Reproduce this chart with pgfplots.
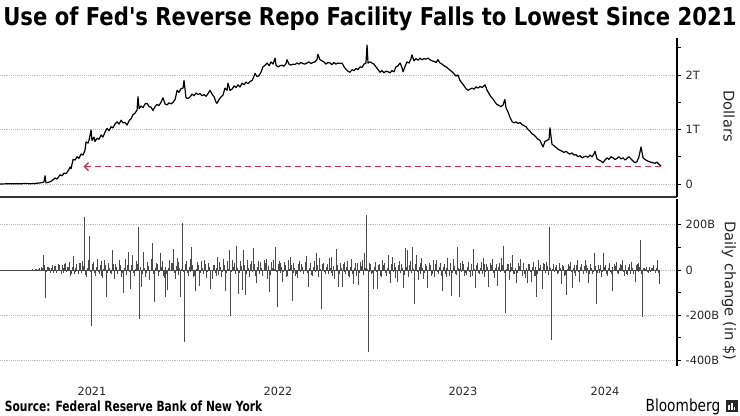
\documentclass[border=0pt]{standalone}
\usepackage{pgfplots}
\pgfplotsset{compat=1.18}
\usepackage{fontspec}
\newfontfamily\djv{DejaVu Sans}
\usetikzlibrary{arrows.meta}
\definecolor{rrred}{RGB}{204,51,85}
\definecolor{bargray}{RGB}{75,75,75}
\definecolor{gridgray}{RGB}{185,185,185}
\begin{document}
\djv
\begin{tikzpicture}
\useasboundingbox (0pt,0pt) rectangle (555pt,312pt);
\node[anchor=base west, inner sep=0] at (2.25pt,292.5pt) {\resizebox{550pt}{14pt}{\bfseries Use of Fed's Reverse Repo Facility Falls to Lowest Since 2021}};
\node[anchor=base west, inner sep=0] at (3.5pt,3pt) {\resizebox{193pt}{8pt}{\bfseries Source: Federal Reserve Bank of New York}};
\node[anchor=base west, inner sep=0] at (484pt,3pt) {\resizebox{56pt}{9.5pt}{Bloomberg}};
\fill[black!85] (544.5pt,3pt) rectangle (553.5pt,12pt);
\fill[white] (546pt,4.5pt) rectangle (547.2pt,8pt);
\fill[white] (548.2pt,4.5pt) rectangle (549.4pt,10pt);
\fill[white] (550.4pt,4.5pt) rectangle (551.6pt,7pt);

\begin{axis}[
 at={(0pt,163.875pt)}, anchor=south west, scale only axis,
 width=507.75pt, height=119.625pt,
 xmin=2021.016, xmax=2024.666, ymin=-0.2477, ymax=2.679,
 axis y line*=right, axis x line*=bottom,
 axis line style={-},
 x axis line style={line width=1.5pt, draw=black!80},
 y axis line style={line width=0.8pt, draw=black},
 xtick=\empty,
 ytick={0,1,2}, yticklabels={0,1T,2T},
 minor ytick={0.5,1.5,2.5},
 tick align=outside, major tick length=3pt, minor tick length=3pt,
 tick style={black, line width=0.6pt},
 ymajorgrids, grid style={gridgray, densely dotted, line width=0.5pt},
 yticklabel style={font=\fontsize{8.5}{10}\selectfont, text=black!85},
 ylabel={Dollars},
 every axis y label/.style={at={(axis description cs:1,0.51)}, xshift=39pt, rotate=-90, anchor=center, font=\fontsize{11}{13}\selectfont, text=black!85},
]
\addplot[black, line width=0.9pt, line join=round] coordinates {
(2021.016,0.00) (2021.070,0.005) (2021.124,0.003) (2021.151,0.01) (2021.178,0.005) (2021.205,0.01) (2021.232,0.02) (2021.248,0.03) (2021.253,0.04) (2021.259,0.15) (2021.264,0.02) (2021.275,0.03) (2021.286,0.04) (2021.296,0.06) (2021.313,0.11) (2021.323,0.09) (2021.340,0.17) (2021.351,0.15) (2021.361,0.20) (2021.372,0.19) (2021.383,0.24) (2021.394,0.31) (2021.399,0.28) (2021.410,0.45) (2021.421,0.44) (2021.431,0.50) (2021.442,0.47) (2021.453,0.55) (2021.464,0.53) (2021.474,0.62) (2021.480,0.77) (2021.491,0.75) (2021.496,0.80) (2021.507,0.99) (2021.512,0.80) (2021.523,0.86) (2021.528,0.78) (2021.539,0.84) (2021.550,0.82) (2021.561,0.90) (2021.571,0.86) (2021.582,0.95) (2021.593,1.02) (2021.604,0.98) (2021.615,1.05) (2021.625,1.03) (2021.636,1.10) (2021.647,1.14) (2021.658,1.10) (2021.669,1.17) (2021.679,1.12) (2021.690,1.13) (2021.701,1.08) (2021.712,1.16) (2021.723,1.20) (2021.733,1.27) (2021.744,1.30) (2021.755,1.36) (2021.760,1.60) (2021.766,1.38) (2021.776,1.43) (2021.787,1.40) (2021.798,1.47) (2021.809,1.48) (2021.820,1.42) (2021.830,1.41) (2021.841,1.35) (2021.852,1.42) (2021.863,1.46) (2021.873,1.44) (2021.884,1.50) (2021.895,1.58) (2021.906,1.47) (2021.917,1.45) (2021.927,1.49) (2021.938,1.47) (2021.949,1.50) (2021.960,1.55) (2021.971,1.72) (2021.981,1.68) (2021.992,1.75) (2022.003,1.76) (2022.008,1.90) (2022.019,1.58) (2022.030,1.57) (2022.041,1.60) (2022.051,1.65) (2022.062,1.62) (2022.073,1.67) (2022.084,1.64) (2022.094,1.66) (2022.105,1.62) (2022.116,1.64) (2022.127,1.61) (2022.138,1.66) (2022.148,1.72) (2022.159,1.65) (2022.170,1.60) (2022.181,1.50) (2022.186,1.48) (2022.197,1.55) (2022.208,1.60) (2022.218,1.63) (2022.229,1.76) (2022.240,1.72) (2022.245,1.85) (2022.256,1.72) (2022.267,1.74) (2022.278,1.80) (2022.289,1.77) (2022.299,1.82) (2022.310,1.78) (2022.321,1.85) (2022.332,1.82) (2022.342,1.87) (2022.353,1.84) (2022.364,1.88) (2022.375,1.90) (2022.386,1.98) (2022.391,2.03) (2022.402,1.97) (2022.413,1.99) (2022.423,2.05) (2022.434,2.15) (2022.445,2.18) (2022.456,2.22) (2022.467,2.17) (2022.477,2.24) (2022.488,2.20) (2022.499,2.31) (2022.504,2.18) (2022.515,2.15) (2022.526,2.17) (2022.536,2.18) (2022.547,2.16) (2022.558,2.21) (2022.563,2.28) (2022.574,2.20) (2022.585,2.18) (2022.596,2.20) (2022.606,2.19) (2022.617,2.22) (2022.628,2.20) (2022.639,2.23) (2022.649,2.21) (2022.660,2.20) (2022.671,2.22) (2022.682,2.24) (2022.693,2.21) (2022.703,2.23) (2022.714,2.24) (2022.725,2.28) (2022.730,2.38) (2022.741,2.28) (2022.752,2.26) (2022.763,2.24) (2022.773,2.20) (2022.784,2.23) (2022.795,2.22) (2022.806,2.19) (2022.817,2.23) (2022.827,2.20) (2022.838,2.22) (2022.849,2.21) (2022.860,2.22) (2022.871,2.15) (2022.882,2.10) (2022.892,2.07) (2022.903,2.05) (2022.914,2.10) (2022.925,2.08) (2022.935,2.12) (2022.946,2.10) (2022.957,2.15) (2022.968,2.14) (2022.979,2.20) (2022.989,2.22) (2022.995,2.55) (2023.000,2.22) (2023.011,2.24) (2023.021,2.22) (2023.032,2.20) (2023.043,2.15) (2023.054,2.10) (2023.065,2.05) (2023.075,2.08) (2023.086,2.04) (2023.097,2.07) (2023.108,2.06) (2023.119,2.04) (2023.129,2.08) (2023.140,2.06) (2023.151,2.15) (2023.162,2.17) (2023.173,2.22) (2023.183,2.14) (2023.189,2.06) (2023.199,2.15) (2023.210,2.24) (2023.221,2.22) (2023.232,2.30) (2023.237,2.37) (2023.248,2.26) (2023.259,2.30) (2023.270,2.27) (2023.280,2.31) (2023.291,2.28) (2023.302,2.30) (2023.313,2.29) (2023.324,2.31) (2023.334,2.28) (2023.345,2.26) (2023.356,2.25) (2023.367,2.23) (2023.377,2.28) (2023.388,2.22) (2023.399,2.20) (2023.410,2.17) (2023.421,2.15) (2023.431,2.12) (2023.442,2.09) (2023.453,2.06) (2023.464,2.02) (2023.474,1.98) (2023.485,2.00) (2023.496,1.90) (2023.507,1.85) (2023.518,1.80) (2023.528,1.75) (2023.539,1.72) (2023.550,1.74) (2023.561,1.76) (2023.572,1.74) (2023.582,1.78) (2023.593,1.76) (2023.604,1.79) (2023.615,1.77) (2023.625,1.80) (2023.631,1.82) (2023.642,1.72) (2023.652,1.66) (2023.663,1.60) (2023.674,1.56) (2023.685,1.50) (2023.695,1.46) (2023.706,1.44) (2023.717,1.42) (2023.728,1.45) (2023.738,1.55) (2023.744,1.40) (2023.755,1.32) (2023.766,1.22) (2023.776,1.15) (2023.787,1.12) (2023.798,1.14) (2023.809,1.11) (2023.820,1.13) (2023.830,1.09) (2023.841,1.07) (2023.852,1.05) (2023.863,1.00) (2023.873,0.97) (2023.884,0.92) (2023.895,0.90) (2023.906,0.86) (2023.917,0.82) (2023.927,0.80) (2023.938,0.72) (2023.944,0.68) (2023.954,0.78) (2023.965,0.80) (2023.976,0.82) (2023.981,1.03) (2023.992,0.73) (2024.003,0.70) (2024.014,0.67) (2024.024,0.64) (2024.035,0.62) (2024.046,0.60) (2024.057,0.58) (2024.068,0.60) (2024.078,0.57) (2024.089,0.55) (2024.100,0.57) (2024.111,0.53) (2024.121,0.54) (2024.132,0.50) (2024.143,0.52) (2024.154,0.48) (2024.165,0.50) (2024.175,0.51) (2024.186,0.49) (2024.197,0.53) (2024.208,0.50) (2024.218,0.55) (2024.224,0.60) (2024.235,0.46) (2024.245,0.44) (2024.256,0.42) (2024.267,0.39) (2024.278,0.44) (2024.289,0.48) (2024.299,0.45) (2024.310,0.50) (2024.321,0.48) (2024.332,0.45) (2024.343,0.47) (2024.353,0.50) (2024.364,0.46) (2024.375,0.48) (2024.386,0.44) (2024.396,0.47) (2024.407,0.50) (2024.418,0.46) (2024.429,0.42) (2024.439,0.39) (2024.450,0.41) (2024.461,0.50) (2024.472,0.68) (2024.483,0.48) (2024.493,0.45) (2024.504,0.43) (2024.515,0.41) (2024.526,0.40) (2024.537,0.39) (2024.547,0.38) (2024.558,0.40) (2024.569,0.36) (2024.580,0.33)
};
\addplot[rrred, line width=1.1pt, dash pattern=on 4.5pt off 3pt, -{Straight Barb[length=3pt,width=6pt]}] coordinates {(2024.578,0.32) (2021.466,0.32)};
\end{axis}

\begin{axis}[
 at={(0pt,37.5pt)}, anchor=south west, scale only axis,
 width=507.75pt, height=125.25pt,
 xmin=2021.016, xmax=2024.666, ymin=-425, ymax=314,
 axis y line*=right, axis x line*=bottom,
 axis line style={-},
 x axis line style={draw=none},
 y axis line style={line width=0.8pt, draw=black},
 xtick={2021.512,2022.515,2023.512,2024.278},
 xticklabels={2021,2022,2023,2024},
 ytick={-400,-200,0,200}, yticklabels={-400B,-200B,0,200B},
 minor ytick={-300,-100,100},
 tick align=outside, major tick length=3pt, minor tick length=3pt,
 tick style={black, line width=0.6pt},
 major x tick style={draw=none},
 ymajorgrids, grid style={gridgray, densely dotted, line width=0.5pt},
 yticklabel style={font=\fontsize{8.5}{10}\selectfont, text=black!85},
 xticklabel style={font=\fontsize{8.5}{10}\selectfont, text=black!85, anchor=base, yshift=-19pt},
 ylabel={Daily change (in \$)},
 every axis y label/.style={at={(axis description cs:1,0.45)}, xshift=39pt, rotate=-90, anchor=center, font=\fontsize{11}{13}\selectfont, text=black!85},
]
\addplot[bargray, line width=0.5pt] coordinates {(2021.016,0) (2024.575,0)};
\addplot[ycomb, bargray, line width=0.55pt, no markers] coordinates {
(2021.02,2) (2021.05,1) (2021.07,1) (2021.08,2) (2021.12,1) (2021.15,1) (2021.17,1) (2021.19,3)
(2021.20,2) (2021.21,5) (2021.22,-3) (2021.23,8) (2021.24,12) (2021.25,66) (2021.26,-123) (2021.27,15) (2021.28,10) (2021.29,-8)
(2021.30,20) (2021.31,18) (2021.32,-12) (2021.33,28) (2021.34,-5) (2021.35,22) (2021.36,-15) (2021.37,30) (2021.38,12) (2021.39,35)
(2021.40,-20) (2021.41,60) (2021.42,-10) (2021.43,25) (2021.44,-18) (2021.45,30) (2021.46,40) (2021.47,233) (2021.48,-30) (2021.49,45)
(2021.50,150) (2021.51,-246) (2021.52,35) (2021.53,-25) (2021.54,50) (2021.55,-20) (2021.56,40) (2021.57,-35) (2021.58,45) (2021.59,-118)
(2021.60,30) (2021.61,-15) (2021.62,88) (2021.63,-40) (2021.64,25) (2021.65,-20) (2021.66,45) (2021.67,-30) (2021.68,-101) (2021.69,50)
(2021.70,20) (2021.71,79) (2021.72,-84) (2021.73,66) (2021.74,-25) (2021.75,40) (2021.76,189) (2021.77,-216) (2021.78,-75) (2021.79,79)
(2021.80,-30) (2021.81,35) (2021.82,-45) (2021.83,50) (2021.84,119) (2021.85,-141) (2021.86,30) (2021.87,-25) (2021.88,75) (2021.89,40)
(2021.90,-35) (2021.91,-118) (2021.92,-88) (2021.93,45) (2021.94,30) (2021.95,92) (2021.96,-40) (2021.97,55) (2021.98,35) (2021.99,-119)
(2022.00,207) (2022.01,-321) (2022.02,40) (2022.03,-25) (2022.04,50) (2022.05,101) (2022.06,-30) (2022.07,-92) (2022.08,35) (2022.09,-70)
(2022.10,40) (2022.11,-20) (2022.12,45) (2022.13,-35) (2022.14,30) (2022.15,-84) (2022.16,-40) (2022.17,20) (2022.18,-25) (2022.19,57)
(2022.20,35) (2022.21,-30) (2022.22,50) (2022.23,-92) (2022.24,40) (2022.25,88) (2022.26,-202) (2022.27,45) (2022.28,30) (2022.29,106)
(2022.30,-106) (2022.31,40) (2022.32,-88) (2022.33,88) (2022.34,-110) (2022.35,45) (2022.36,-30) (2022.37,40) (2022.38,97) (2022.39,25)
(2022.40,-57) (2022.41,40) (2022.42,35) (2022.43,-25) (2022.44,45) (2022.45,50) (2022.46,-40) (2022.47,-97) (2022.48,35) (2022.49,45)
(2022.50,101) (2022.51,-163) (2022.52,40) (2022.53,30) (2022.54,-53) (2022.55,35) (2022.56,-30) (2022.57,45) (2022.58,57) (2022.59,-136)
(2022.60,30) (2022.61,-25) (2022.62,-35) (2022.63,40) (2022.64,25) (2022.65,-20) (2022.66,35) (2022.67,62) (2022.68,-75) (2022.69,30)
(2022.70,-25) (2022.71,40) (2022.72,75) (2022.73,-30) (2022.74,53) (2022.75,-172) (2022.76,30) (2022.77,-20) (2022.78,25) (2022.79,53)
(2022.80,57) (2022.81,-25) (2022.82,-40) (2022.83,92) (2022.84,-75) (2022.85,30) (2022.86,-75) (2022.87,35) (2022.88,-20) (2022.89,40)
(2022.90,-30) (2022.91,48) (2022.92,-62) (2022.93,30) (2022.94,-25) (2022.95,-66) (2022.96,35) (2022.97,44) (2022.98,75) (2022.99,242)
(2023.00,-361) (2023.01,30) (2023.02,-20) (2023.03,-84) (2023.04,35) (2023.05,-84) (2023.06,25) (2023.07,-30) (2023.08,44) (2023.09,30)
(2023.10,-25) (2023.11,66) (2023.12,-57) (2023.13,57) (2023.14,30) (2023.15,-35) (2023.16,-53) (2023.17,40) (2023.18,25) (2023.19,-79)
(2023.20,97) (2023.21,88) (2023.22,-30) (2023.23,40) (2023.24,101) (2023.25,-150) (2023.26,66) (2023.27,-44) (2023.28,30) (2023.29,53)
(2023.30,-40) (2023.31,25) (2023.32,-79) (2023.33,30) (2023.34,-25) (2023.35,44) (2023.36,-30) (2023.37,44) (2023.38,-20) (2023.39,30)
(2023.40,-92) (2023.41,25) (2023.42,-30) (2023.43,53) (2023.44,-25) (2023.45,-114) (2023.46,48) (2023.47,-20) (2023.48,101) (2023.49,-119)
(2023.50,30) (2023.51,40) (2023.52,-25) (2023.53,-22) (2023.54,35) (2023.55,-30) (2023.56,25) (2023.57,92) (2023.58,-79) (2023.59,30)
(2023.60,-20) (2023.61,35) (2023.62,53) (2023.63,-30) (2023.64,25) (2023.65,-75) (2023.66,30) (2023.67,48) (2023.68,-35) (2023.69,25)
(2023.70,-70) (2023.71,30) (2023.72,53) (2023.73,106) (2023.74,-189) (2023.75,25) (2023.76,-44) (2023.77,30) (2023.78,66) (2023.79,-20)
(2023.80,-57) (2023.81,30) (2023.82,48) (2023.83,-25) (2023.84,30) (2023.85,-35) (2023.86,-57) (2023.87,25) (2023.88,-53) (2023.89,35)
(2023.90,-25) (2023.91,-119) (2023.92,44) (2023.93,20) (2023.94,-84) (2023.95,25) (2023.96,35) (2023.97,-20) (2023.98,189) (2023.99,-308)
(2024.00,25) (2024.01,13) (2024.02,-20) (2024.03,30) (2024.04,-62) (2024.05,20) (2024.06,-25) (2024.07,-110) (2024.08,25) (2024.09,35)
(2024.10,-79) (2024.11,20) (2024.12,-25) (2024.13,44) (2024.14,-53) (2024.15,25) (2024.16,-20) (2024.17,44) (2024.18,20) (2024.19,-57)
(2024.20,25) (2024.21,-20) (2024.22,75) (2024.23,-150) (2024.24,20) (2024.25,-13) (2024.26,-30) (2024.27,75) (2024.28,20) (2024.29,-25)
(2024.30,30) (2024.31,-20) (2024.32,-92) (2024.33,25) (2024.34,35) (2024.35,-20) (2024.36,25) (2024.37,44) (2024.38,-25) (2024.39,20)
(2024.40,-22) (2024.41,25) (2024.42,35) (2024.43,-20) (2024.44,-53) (2024.45,25) (2024.46,30) (2024.47,132) (2024.48,-207) (2024.49,9)
(2024.50,15) (2024.51,-12) (2024.52,-9) (2024.53,10) (2024.54,22) (2024.55,-15) (2024.56,44) (2024.57,-62)
};
\addplot[ycomb, bargray, line width=0.55pt, no markers] coordinates {
(2021.205,3) (2021.215,-2) (2021.225,6) (2021.235,-5) (2021.245,10) (2021.255,20) (2021.265,-10) (2021.275,12) (2021.285,-15) (2021.295,8)
(2021.305,-12) (2021.315,18) (2021.325,-6) (2021.335,22) (2021.345,-18) (2021.355,10) (2021.365,28) (2021.375,-8) (2021.385,14) (2021.395,-25)
(2021.405,15) (2021.415,-20) (2021.425,8) (2021.435,-5) (2021.445,30) (2021.455,-12) (2021.465,18) (2021.475,-22) (2021.485,10) (2021.495,5)
(2021.505,-10) (2021.515,25) (2021.525,-15) (2021.535,12) (2021.545,-8) (2021.555,20) (2021.565,-28) (2021.575,6) (2021.585,22) (2021.595,-12)
(2021.605,8) (2021.615,-18) (2021.625,26) (2021.635,-10) (2021.645,14) (2021.655,-6) (2021.665,20) (2021.675,-15) (2021.685,10) (2021.695,-22)
(2021.705,12) (2021.715,-8) (2021.725,20) (2021.735,-15) (2021.745,6) (2021.755,25) (2021.765,-10) (2021.775,15) (2021.785,-20) (2021.795,8)
(2021.805,-12) (2021.815,18) (2021.825,-6) (2021.835,22) (2021.845,-18) (2021.855,10) (2021.865,28) (2021.875,-8) (2021.885,14) (2021.895,-25)
(2021.905,15) (2021.915,-20) (2021.925,8) (2021.935,-5) (2021.945,30) (2021.955,-12) (2021.965,18) (2021.975,-22) (2021.985,10) (2021.995,5)
(2022.005,-10) (2022.015,25) (2022.025,-15) (2022.035,12) (2022.045,-8) (2022.055,20) (2022.065,-28) (2022.075,6) (2022.085,22) (2022.095,-12)
(2022.105,8) (2022.115,-18) (2022.125,26) (2022.135,-10) (2022.145,14) (2022.155,-6) (2022.165,20) (2022.175,-15) (2022.185,10) (2022.195,-22)
(2022.205,12) (2022.215,-8) (2022.225,20) (2022.235,-15) (2022.245,6) (2022.255,25) (2022.265,-10) (2022.275,15) (2022.285,-20) (2022.295,8)
(2022.305,-12) (2022.315,18) (2022.325,-6) (2022.335,22) (2022.345,-18) (2022.355,10) (2022.365,28) (2022.375,-8) (2022.385,14) (2022.395,-25)
(2022.405,15) (2022.415,-20) (2022.425,8) (2022.435,-5) (2022.445,30) (2022.455,-12) (2022.465,18) (2022.475,-22) (2022.485,10) (2022.495,5)
(2022.505,-10) (2022.515,25) (2022.525,-15) (2022.535,12) (2022.545,-8) (2022.555,20) (2022.565,-28) (2022.575,6) (2022.585,22) (2022.595,-12)
(2022.605,8) (2022.615,-18) (2022.625,26) (2022.635,-10) (2022.645,14) (2022.655,-6) (2022.665,20) (2022.675,-15) (2022.685,10) (2022.695,-22)
(2022.705,12) (2022.715,-8) (2022.725,20) (2022.735,-15) (2022.745,6) (2022.755,25) (2022.765,-10) (2022.775,15) (2022.785,-20) (2022.795,8)
(2022.805,-12) (2022.815,18) (2022.825,-6) (2022.835,22) (2022.845,-18) (2022.855,10) (2022.865,28) (2022.875,-8) (2022.885,14) (2022.895,-25)
(2022.905,15) (2022.915,-20) (2022.925,8) (2022.935,-5) (2022.945,30) (2022.955,-12) (2022.965,18) (2022.975,-22) (2022.985,10) (2022.995,5)
(2023.005,-10) (2023.015,25) (2023.025,-15) (2023.035,12) (2023.045,-8) (2023.055,20) (2023.065,-28) (2023.075,6) (2023.085,22) (2023.095,-12)
(2023.105,8) (2023.115,-18) (2023.125,26) (2023.135,-10) (2023.145,14) (2023.155,-6) (2023.165,20) (2023.175,-15) (2023.185,10) (2023.195,-22)
(2023.205,12) (2023.215,-8) (2023.225,20) (2023.235,-15) (2023.245,6) (2023.255,25) (2023.265,-10) (2023.275,15) (2023.285,-20) (2023.295,8)
(2023.305,-12) (2023.315,18) (2023.325,-6) (2023.335,22) (2023.345,-18) (2023.355,10) (2023.365,28) (2023.375,-8) (2023.385,14) (2023.395,-25)
(2023.405,15) (2023.415,-20) (2023.425,8) (2023.435,-5) (2023.445,30) (2023.455,-12) (2023.465,18) (2023.475,-22) (2023.485,10) (2023.495,5)
(2023.505,-10) (2023.515,25) (2023.525,-15) (2023.535,12) (2023.545,-8) (2023.555,20) (2023.565,-28) (2023.575,6) (2023.585,22) (2023.595,-12)
(2023.605,8) (2023.615,-18) (2023.625,26) (2023.635,-10) (2023.645,14) (2023.655,-6) (2023.665,20) (2023.675,-15) (2023.685,10) (2023.695,-22)
(2023.705,12) (2023.715,-8) (2023.725,20) (2023.735,-15) (2023.745,6) (2023.755,25) (2023.765,-10) (2023.775,15) (2023.785,-20) (2023.795,8)
(2023.805,-12) (2023.815,18) (2023.825,-6) (2023.835,22) (2023.845,-18) (2023.855,10) (2023.865,28) (2023.875,-8) (2023.885,14) (2023.895,-25)
(2023.905,15) (2023.915,-20) (2023.925,8) (2023.935,-5) (2023.945,30) (2023.955,-12) (2023.965,18) (2023.975,-22) (2023.985,10) (2023.995,5)
(2024.005,-10) (2024.015,20) (2024.025,-12) (2024.035,10) (2024.045,-8) (2024.055,16) (2024.065,-22) (2024.075,6) (2024.085,18) (2024.095,-10)
(2024.105,8) (2024.115,-15) (2024.125,20) (2024.135,-10) (2024.145,12) (2024.155,-6) (2024.165,16) (2024.175,-12) (2024.185,10) (2024.195,-18)
(2024.205,10) (2024.215,-8) (2024.225,16) (2024.235,-12) (2024.245,6) (2024.255,20) (2024.265,-10) (2024.275,12) (2024.285,-16) (2024.295,8)
(2024.305,-10) (2024.315,15) (2024.325,-6) (2024.335,18) (2024.345,-15) (2024.355,10) (2024.365,22) (2024.375,-8) (2024.385,12) (2024.395,-20)
(2024.405,12) (2024.415,-16) (2024.425,8) (2024.435,-5) (2024.445,24) (2024.455,-10) (2024.465,15) (2024.475,-18) (2024.485,8) (2024.495,5)
(2024.505,-8) (2024.515,12) (2024.525,-10) (2024.535,8) (2024.545,-6) (2024.555,10) (2024.565,-12)
};
\end{axis}
\end{tikzpicture}
\end{document}
